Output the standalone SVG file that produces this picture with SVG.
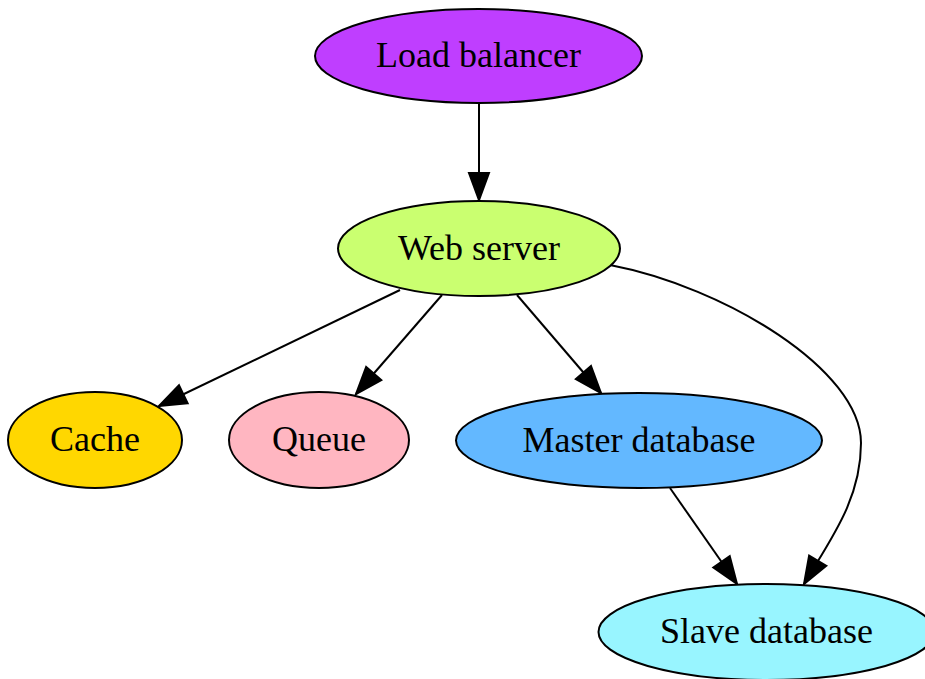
<svg xmlns="http://www.w3.org/2000/svg" width="925" height="679" viewBox="0 0 925 679">
<style>
.n ellipse{stroke:#000;stroke-width:2}
.n text{font-family:"Liberation Serif","Times New Roman",serif;font-size:36px;text-anchor:middle;fill:#000}
.e path{fill:none;stroke:#000;stroke-width:2;marker-end:url(#ah)}
</style>
<defs>
<marker id="ah" markerUnits="userSpaceOnUse" markerWidth="32" markerHeight="26" refX="28" refY="11" orient="auto" overflow="visible">
<path d="M1,1 L28,11 L1,21 Z" fill="#000" stroke="#000" stroke-width="2" stroke-linejoin="miter"/>
</marker>
</defs>
<rect width="925" height="679" fill="#fff"/>
<g id="edges" class="e">
<path d="M479,103 L479,200"/>
<path d="M400,290 L159,406"/>
<path d="M442,295 L356,394"/>
<path d="M517,295 L601,393"/>
<path d="M670,488 L737,584"/>
<path d="M610,265 C725,287 861,370 861,443 C861,500 830,540 804,584"/>
</g>
<g id="load_balancer" class="n">
<ellipse cx="478.5" cy="56" rx="163.5" ry="47" fill="#bf3eff"/>
<text x="478.5" y="67">Load balancer</text>
</g>
<g id="web_server" class="n">
<ellipse cx="479" cy="248.5" rx="141" ry="47.5" fill="#caff70"/>
<text x="479" y="259.5">Web server</text>
</g>
<g id="cache" class="n">
<ellipse cx="95" cy="440" rx="87" ry="48" fill="#ffd700"/>
<text x="95" y="451">Cache</text>
</g>
<g id="queue" class="n">
<ellipse cx="319" cy="440" rx="90" ry="48" fill="#ffb6c1"/>
<text x="319" y="451">Queue</text>
</g>
<g id="master_database" class="n">
<ellipse cx="639" cy="440.5" rx="183" ry="47.5" fill="#63b8ff"/>
<text x="639" y="451.5">Master database</text>
</g>
<g id="slave_database" class="n">
<ellipse cx="766.5" cy="632" rx="168" ry="48" fill="#98f5ff"/>
<text x="766.5" y="643">Slave database</text>
</g>
</svg>
